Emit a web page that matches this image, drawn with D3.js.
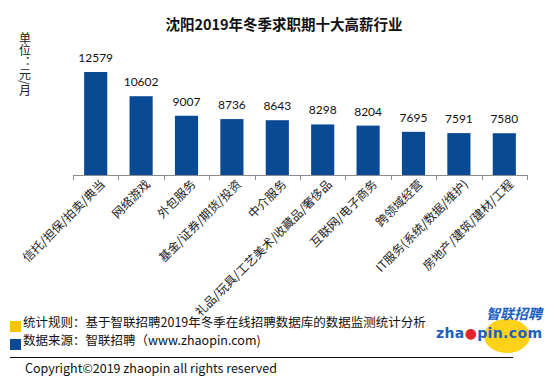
<!DOCTYPE html>
<html>
<head>
<meta charset="utf-8">
<script src="https://cdn.jsdelivr.net/npm/d3@7"></script>
<style>
  body { margin: 0; background: #fff; }
  svg { display: block; }
</style>
</head>
<body>
<div id="chart"></div>
<script>
// data
const industries = ["信托/担保/拍卖/典当", "网络游戏", "外包服务", "基金/证券/期货/投资", "中介服务",
  "礼品/玩具/工艺美术/收藏品/奢侈品", "互联网/电子商务", "跨领域经营", "IT服务(系统/数据/维护)", "房地产/建筑/建材/工程"];
const salaries = [12579, 10602, 9007, 8736, 8643, 8298, 8204, 7695, 7591, 7580];
const notes = ["统计规则：基于智联招聘2019年冬季在线招聘数据库的数据监测统计分析", "数据来源：智联招聘（www.zhaopin.com)"];
const noteColors = ["#f7c600", "#0a4a94"];

const width = 554, height = 384;
const cjk = "'Noto Sans CJK SC', 'Noto Sans', sans-serif";
const num = "Lato, 'Open Sans', sans-serif";

const svg = d3.select("#chart").append("svg")
    .attr("width", width)
    .attr("height", height);

const x = d3.scaleBand()
    .domain(industries)
    .range([73, 527])
    .paddingInner(0.49)
    .paddingOuter(0.245);

const y = d3.scaleLinear()
    .domain([4170, 12579])
    .range([175, 72]);

// title
svg.append("text")
    .attr("x", 284).attr("y", 30)
    .attr("text-anchor", "middle")
    .style("font-family", cjk)
    .style("font-weight", "bold")
    .style("font-size", "14.5px")
    .style("fill", "#111")
    .text("沈阳2019年冬季求职期十大高薪行业");

// unit label, vertical
svg.append("text")
    .attr("x", 25).attr("y", 32)
    .attr("writing-mode", "vertical-rl")
    .style("font-family", cjk)
    .style("font-size", "12px")
    .style("fill", "#222")
    .text("单位：元/月");

// bars
svg.append("g").selectAll("rect")
    .data(salaries)
    .enter().append("rect")
    .attr("x", (d, i) => x(industries[i]))
    .attr("y", d => y(d))
    .attr("width", x.bandwidth())
    .attr("height", d => y.range()[0] - y(d))
    .style("fill", "#0a4a94");

// value labels
svg.append("g").selectAll("text")
    .data(salaries)
    .enter().append("text")
    .attr("x", (d, i) => x(industries[i]) + x.bandwidth() / 2)
    .attr("y", d => y(d) - 10)
    .attr("text-anchor", "middle")
    .style("font-family", num)
    .style("font-size", "12px")
    .style("fill", "#111")
    .text(d => d);

// axis line + ticks between categories
const axis = svg.append("g").style("stroke", "#8c8c8c").style("stroke-width", 1);
axis.append("line")
    .attr("x1", 73).attr("x2", 527)
    .attr("y1", 175.5).attr("y2", 175.5);
axis.selectAll("line.tick")
    .data(d3.range(industries.length + 1))
    .enter().append("line")
    .attr("class", "tick")
    .attr("x1", i => Math.round(73 + i * (527 - 73) / industries.length) + 0.5)
    .attr("x2", i => Math.round(73 + i * (527 - 73) / industries.length) + 0.5)
    .attr("y1", 175).attr("y2", 180);

// category labels rotated
svg.append("g").selectAll("text")
    .data(industries)
    .enter().append("text")
    .attr("transform", d => `translate(${x(d) + x.bandwidth() / 2 + 10},${185}) rotate(-45)`)
    .attr("text-anchor", "end")
    .style("font-family", cjk)
    .style("font-size", "12px")
    .style("fill", "#222")
    .text(d => d);

// notes legend
const noteG = svg.append("g").selectAll("g")
    .data(notes)
    .enter().append("g")
    .attr("transform", (d, i) => `translate(0,${i * 18})`);
noteG.append("rect")
    .attr("x", 10).attr("y", 321)
    .attr("width", 11).attr("height", 11)
    .style("fill", (d, i) => noteColors[i]);
noteG.append("text")
    .attr("x", 23).attr("y", 327)
    .style("font-family", cjk)
    .style("font-size", "12.5px")
    .style("fill", "#111")
    .text(d => d);

svg.append("line")
    .attr("x1", 10).attr("x2", 513)
    .attr("y1", 357.5).attr("y2", 357.5)
    .style("stroke", "#111");

svg.append("text")
    .attr("x", 25).attr("y", 373)
    .style("font-family", cjk)
    .style("font-size", "12.5px")
    .style("fill", "#111")
    .text("Copyright©2019 zhaopin all rights reserved");

// logo
const logo = svg.append("g");
logo.append("ellipse")
    .attr("cx", 507).attr("cy", 336)
    .attr("rx", 23).attr("ry", 17)
    .style("fill", "#ffd21a");
logo.append("text")
    .attr("x", 542).attr("y", 319)
    .attr("text-anchor", "end")
    .style("font-family", cjk)
    .style("font-weight", "bold")
    .style("font-style", "italic")
    .style("font-size", "14px")
    .style("fill", "#1d5fbf")
    .text("智联招聘");
const zt = logo.append("text")
    .attr("x", 436).attr("y", 338)
    .attr("textLength", 106)
    .style("font-family", "'DejaVu Sans', sans-serif")
    .style("font-weight", "bold")
    .style("font-size", "14px")
    .style("fill", "#1d5fbf");
zt.append("tspan").text("zha");
zt.append("tspan").style("fill", "#e0262b").text("●");
zt.append("tspan").text("pin.com");
</script>
</body>
</html>
